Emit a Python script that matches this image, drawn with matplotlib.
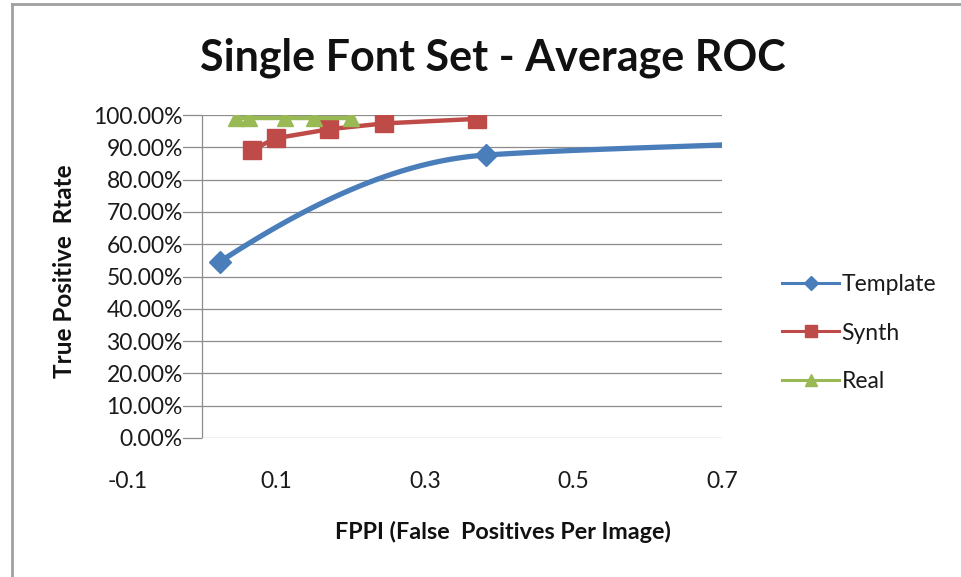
import numpy as np
import matplotlib
matplotlib.use("Agg")
import matplotlib.pyplot as plt
from matplotlib.lines import Line2D

plt.rcParams['font.family'] = ['Lato', 'DejaVu Sans']

# data
template_x = [0.024, 0.382, 0.75]
template_y = [0.546, 0.876, 0.912]
template_slope = [1.5, 0.15, 0.1]   # tangents used for the smoothed line

synth_x = [0.067, 0.099, 0.171, 0.245, 0.370]
synth_y = [0.892, 0.928, 0.956, 0.974, 0.988]

real_x = [0.045, 0.063, 0.111, 0.150, 0.201]
real_y = [0.990, 0.990, 0.990, 0.990, 0.990]

yticks = np.arange(0, 1.01, 0.1)
xticks = [-0.1, 0.1, 0.3, 0.5, 0.7]

blue, red, green = '#4A7EBB', '#BE4B48', '#98B954'
grid = '#8C8C8C'


def smooth(xs, ys, ms, n=60):
    # cubic hermite through the points
    px, py = [], []
    for i in range(len(xs) - 1):
        h = xs[i + 1] - xs[i]
        t = np.linspace(0, 1, n)
        h00 = 2 * t**3 - 3 * t**2 + 1
        h10 = t**3 - 2 * t**2 + t
        h01 = -2 * t**3 + 3 * t**2
        h11 = t**3 - t**2
        px.append(xs[i] + h * t)
        py.append(h00 * ys[i] + h10 * h * ms[i] + h01 * ys[i + 1] + h11 * h * ms[i + 1])
    return np.concatenate(px), np.concatenate(py)


fig = plt.figure(figsize=(9.61, 5.77), dpi=100)
ax = fig.add_axes([128 / 961, 1 - 438 / 577, (722 - 128) / 961, (438 - 115) / 577])
ax.set_xlim(-0.1, 0.7)
ax.set_ylim(0, 1)

# gridlines from the y axis to the right edge
ax.hlines(yticks, 0, 0.7, color=grid, lw=0.9, zorder=1)
ax.vlines(0, 0, 1, color=grid, lw=0.9, zorder=1)

for s in ax.spines.values():
    s.set_visible(False)

ax.spines['left'].set_position(('data', 0))
ax.set_yticks(yticks)
ax.set_yticklabels([f'{v*100:.2f}%' for v in yticks])
ax.tick_params(axis='y', length=16, width=0.9, color=grid, pad=-2, labelsize=16.5, labelcolor='#1a1a1a')
for lab in ax.get_yticklabels():
    lab.set_bbox(dict(facecolor='white', edgecolor='none', pad=0))

ax.set_xticks(xticks)
ax.set_xticklabels([f'{v:g}' for v in xticks])
ax.tick_params(axis='x', length=0, pad=24, labelsize=16.5, labelcolor='#1a1a1a')

# series
sx, sy = smooth(template_x, template_y, template_slope)
ax.plot(sx, sy, color=blue, lw=3.8, solid_capstyle='butt', zorder=3)
ax.plot(template_x, template_y, ls='none', marker='D', ms=11, color=blue, zorder=4)
ax.plot(synth_x, synth_y, color=red, lw=3.2, marker='s', ms=13, zorder=5)
ax.plot(real_x, real_y, color=green, lw=3.2, marker='^', ms=12, zorder=6)

handles = [
    Line2D([], [], color=blue, lw=2.2, marker='D', ms=7),
    Line2D([], [], color=red, lw=2.2, marker='s', ms=9),
    Line2D([], [], color=green, lw=2.2, marker='^', ms=9),
]
fig.legend(handles, ['Template', 'Synth', 'Real'], loc='center left',
           bbox_to_anchor=(782 / 961, 1 - 333 / 577), frameon=False,
           fontsize=16.5, handlelength=2.5, handletextpad=0.1, labelspacing=1.2,
           borderpad=0, borderaxespad=0, labelcolor='#1a1a1a')

fig.text(493 / 961, 1 - 58 / 577, 'Single Font Set - Average ROC', ha='center', va='center',
         fontsize=31, fontweight='bold', color='#111111')
fig.text(64 / 961, 1 - 271 / 577, 'True Positive  Rtate', rotation=90, ha='center', va='center',
         fontsize=17.5, fontweight='bold', color='#111111')
fig.text(503 / 961, 1 - 532 / 577, 'FPPI (False  Positives Per Image)', ha='center', va='center',
         fontsize=16.8, fontweight='bold', color='#111111')

# chart area border (top and left visible)
fig.add_artist(Line2D([12 / 961, 12 / 961], [0, 1 - 4 / 577], transform=fig.transFigure, color='#A0A0A0', lw=2))
fig.add_artist(Line2D([12 / 961, 1], [1 - 4 / 577, 1 - 4 / 577], transform=fig.transFigure, color='#A0A0A0', lw=2))

fig.savefig('out.png', dpi=100)
